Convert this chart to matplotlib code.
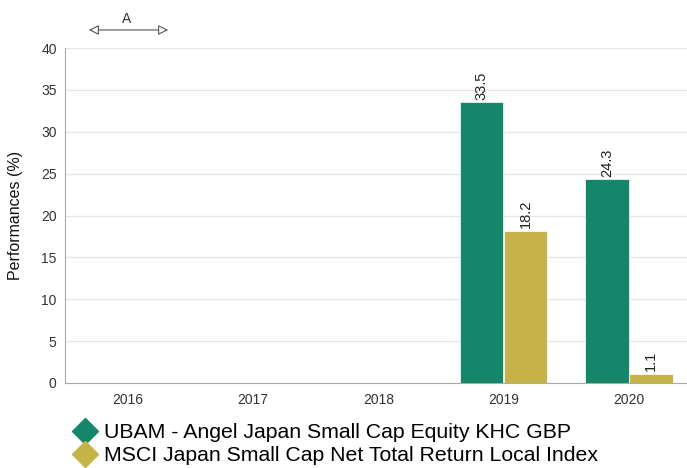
import matplotlib
matplotlib.use("Agg")
import matplotlib.pyplot as plt
from matplotlib.lines import Line2D
import numpy as np

plt.rcParams['font.family'] = ['Liberation Sans', 'DejaVu Sans']

years = ["2016", "2017", "2018", "2019", "2020"]
fund = [None, None, None, 33.5, 24.3]
index = [None, None, None, 18.2, 1.1]
fund_name = "UBAM - Angel Japan Small Cap Equity KHC GBP"
index_name = "MSCI Japan Small Cap Net Total Return Local Index"
green = "#15866a"
gold = "#c5b349"

fig = plt.figure(figsize=(6.87, 4.68), dpi=100)
ax = fig.add_axes([65/687, 1-383/468, (691.75-65)/687, (383-48)/468])

x = np.arange(len(years))
w = 0.345
for i, (f, m) in enumerate(zip(fund, index)):
    if f is not None:
        ax.bar(i - w/2 - 0.003, f, w, color=green, edgecolor='white', linewidth=0.5, zorder=3)
        ax.text(i - w/2 - 0.003, f + 0.3, f"{f:.1f}", rotation=90, ha='center', va='bottom', fontsize=10.5, color='#222222')
    if m is not None:
        ax.bar(i + w/2 + 0.003, m, w, color=gold, edgecolor='white', linewidth=0.5, zorder=3)
        ax.text(i + w/2 + 0.003, m + 0.3, f"{m:.1f}", rotation=90, ha='center', va='bottom', fontsize=10.5, color='#222222')

ax.set_xlim(-0.5, 4.5)
ax.set_ylim(0, 40)
ax.set_xticks(x)
ax.set_xticklabels(years)
ax.set_yticks(range(0, 41, 5))
ax.tick_params(axis='both', length=0, labelsize=10, colors='#333333')
ax.tick_params(axis='x', pad=7)
ax.tick_params(axis='y', pad=6)
ax.grid(axis='y', color='#e6e6e6', linewidth=1, zorder=0)
for s in ['top', 'right']:
    ax.spines[s].set_visible(False)
ax.spines['left'].set_color('#aaaaaa')
ax.spines['bottom'].set_color('#aaaaaa')
ax.set_ylabel("Performances (%)", fontsize=11.5, color='#111111', labelpad=13)

# "A" annotation
fig.patches.append(matplotlib.patches.FancyArrowPatch(
    (86/687, 1-30/468), (171/687, 1-30/468), transform=fig.transFigure,
    arrowstyle='<|-|>,head_length=6,head_width=3', edgecolor='#555555', facecolor='white',
    linewidth=0.8, mutation_scale=1))
fig.text(127/687, 1-19/468, "A", ha='center', va='center', fontsize=10, color='#333333')

handles = [Line2D([0], [0], marker='D', color='none', markerfacecolor=green, markeredgecolor=green, markersize=13),
           Line2D([0], [0], marker='D', color='none', markerfacecolor=gold, markeredgecolor=gold, markersize=13)]
fig.legend(handles, [fund_name, index_name], loc='upper left', bbox_to_anchor=(75/687, 1-423/468),
           frameon=False, fontsize=15.3, handlelength=0.95, handletextpad=0.4, labelspacing=0.2,
           borderpad=0, borderaxespad=0)

fig.savefig("out.png", dpi=100)
